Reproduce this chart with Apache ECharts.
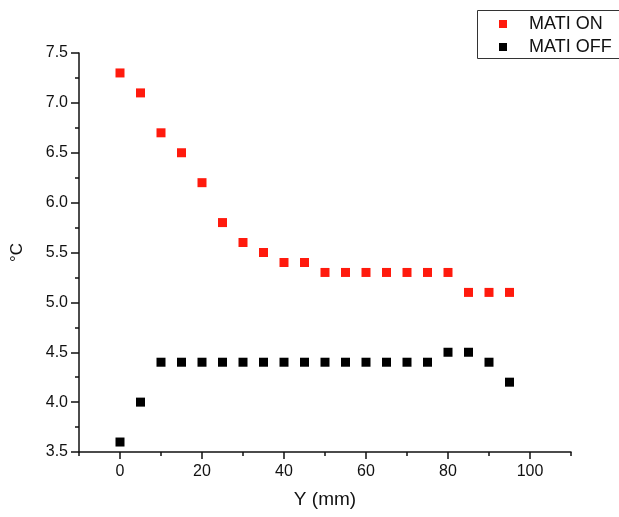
<!DOCTYPE html>
<html>
<head>
<meta charset="utf-8">
<script src="https://cdn.jsdelivr.net/npm/echarts@6/dist/echarts.min.js"></script>
<style>
  html, body { margin: 0; padding: 0; background: #fff; }
  #chart { width: 619px; height: 517px; }
</style>
</head>
<body>
<div id="chart"></div>
<script>
// Position along Y (mm)
const positions = [0, 5, 10, 15, 20, 25, 30, 35, 40, 45, 50, 55, 60, 65, 70, 75, 80, 85, 90, 95];
// Temperature (°C) with MATI switched on / off
const matiOn  = [7.3, 7.1, 6.7, 6.5, 6.2, 5.8, 5.6, 5.5, 5.4, 5.4, 5.3, 5.3, 5.3, 5.3, 5.3, 5.3, 5.3, 5.1, 5.1, 5.1];
const matiOff = [3.6, 4.0, 4.4, 4.4, 4.4, 4.4, 4.4, 4.4, 4.4, 4.4, 4.4, 4.4, 4.4, 4.4, 4.4, 4.4, 4.5, 4.5, 4.4, 4.2];
// Axis tick values
const xMajorTicks = [0, 20, 40, 60, 80, 100];
const xMinorTicks = [-10, 10, 30, 50, 70, 90, 110];

const FONT = '"Liberation Sans", Arial, sans-serif';
const INK = '#111';

const chart = echarts.init(document.getElementById('chart'), null, { renderer: 'canvas' });

chart.setOption({
  animation: false,
  backgroundColor: '#fff',
  grid: { left: 79, right: 48, top: 53, bottom: 65, containLabel: false },
  legend: {
    orient: 'vertical',
    left: 499,
    top: 14,
    icon: 'rect',
    itemWidth: 8,
    itemHeight: 8,
    itemGap: 3,
    padding: 0,
    textStyle: { fontFamily: FONT, fontSize: 18, color: INK, padding: [0, 0, 0, 17], lineHeight: 20 },
    data: ['MATI ON', 'MATI OFF']
  },
  graphic: [{
    type: 'rect',
    shape: { x: 477.5, y: 10.5, width: 160, height: 48 },
    style: { fill: 'none', stroke: '#333', lineWidth: 1 },
    silent: true
  }],
  xAxis: [{
    type: 'value',
    min: -10,
    max: 110,
    name: 'Y (mm)',
    nameLocation: 'middle',
    nameGap: 38,
    nameTextStyle: { fontFamily: FONT, fontSize: 19, color: INK },
    axisLine: { show: true, onZero: false, lineStyle: { color: INK, width: 1.5 } },
    axisTick: { show: true, inside: false, length: 7, customValues: xMajorTicks, lineStyle: { color: INK, width: 1.5 } },
    axisLabel: { show: true, margin: 12, customValues: xMajorTicks, fontFamily: FONT, fontSize: 16, color: INK },
    splitLine: { show: false }
  }, {
    type: 'value',
    position: 'bottom',
    min: -10,
    max: 110,
    axisLine: { show: false },
    axisTick: { show: true, inside: false, length: 4, customValues: xMinorTicks, lineStyle: { color: INK, width: 1.5 } },
    axisLabel: { show: false },
    splitLine: { show: false }
  }],
  yAxis: {
    type: 'value',
    min: 3.5,
    max: 7.5,
    interval: 0.5,
    name: '°C',
    nameLocation: 'middle',
    nameGap: 53,
    nameTextStyle: { fontFamily: FONT, fontSize: 17, color: INK },
    axisLine: { show: true, onZero: false, lineStyle: { color: INK, width: 1.5 } },
    axisTick: { show: true, inside: false, length: 8, lineStyle: { color: INK, width: 1.5 } },
    minorTick: { show: true, splitNumber: 2, length: 4, lineStyle: { color: INK, width: 1.5 } },
    axisLabel: { margin: 11, fontFamily: FONT, fontSize: 16, color: INK, formatter: v => v.toFixed(1) },
    splitLine: { show: false }
  },
  series: [{
    name: 'MATI ON',
    type: 'scatter',
    xAxisIndex: 0,
    symbol: 'rect',
    symbolSize: 9,
    itemStyle: { color: '#ff1a0d', opacity: 1 },
    data: positions.map((x, i) => [x, matiOn[i]])
  }, {
    name: 'MATI OFF',
    type: 'scatter',
    xAxisIndex: 0,
    symbol: 'rect',
    symbolSize: 9,
    itemStyle: { color: '#000', opacity: 1 },
    data: positions.map((x, i) => [x, matiOff[i]])
  }]
});
</script>
</body>
</html>
